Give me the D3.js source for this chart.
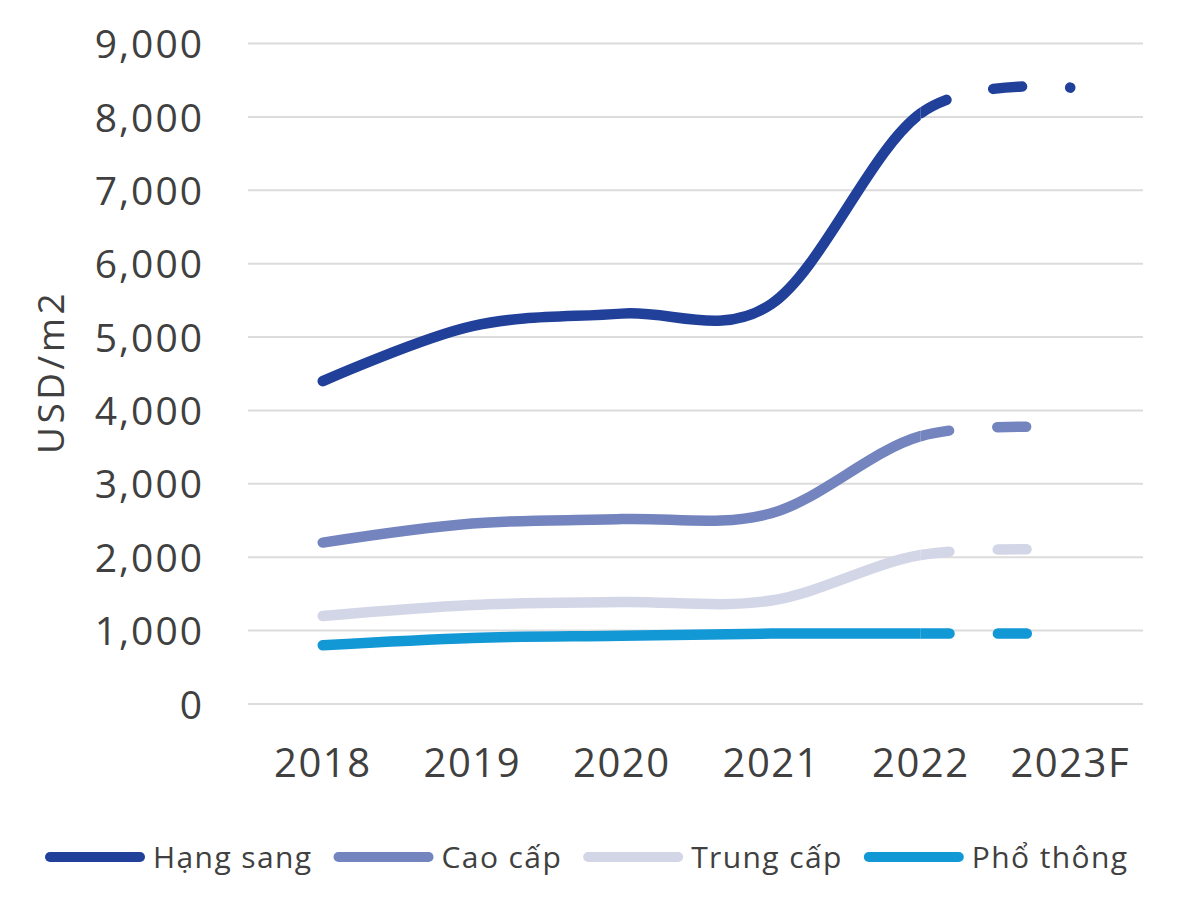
<!DOCTYPE html>
<html>
<head>
<meta charset="utf-8">
<script src="https://cdn.jsdelivr.net/npm/d3@7"></script>
<style>
  html, body { margin: 0; padding: 0; background: #ffffff; }
  svg text { font-family: "Open Sans", "Noto Sans", sans-serif; fill: #404040; }
</style>
</head>
<body>
<svg id="chart" width="1200" height="898"></svg>
<script>
// ---- data ----
const categories = ["2018", "2019", "2020", "2021", "2022", "2023F"];
const seriesNames = ["Hạng sang", "Cao cấp", "Trung cấp", "Phổ thông"];
const hangSang = [4400, 5150, 5320, 5450, 8050, 8400];
const caoCap   = [2200, 2460, 2520, 2600, 3650, 3760];
const trungCap = [1200, 1350, 1390, 1410, 2030, 2100];
const phoThong = [800, 900, 930, 960, 960, 960];
const yTicks = [0, 1000, 2000, 3000, 4000, 5000, 6000, 7000, 8000, 9000];
const yTitle = "USD/m2";
const forecastFrom = "2022";

const seriesValues = [hangSang, caoCap, trungCap, phoThong];
const colors = ["#21409a", "#7384bf", "#d3d6e6", "#1398d6"];

// ---- layout ----
const svg = d3.select("#chart");
const plotLeft = 248, plotRight = 1145, plotTop = 43.6, plotBottom = 704;

const x = d3.scaleBand().domain(categories).range([plotLeft, plotRight]);
const xc = d => x(d) + x.bandwidth() / 2;
const y = d3.scaleLinear().domain([0, 9000]).range([plotBottom, plotTop]);

// gridlines
svg.append("g").selectAll("line").data(yTicks).join("line")
  .attr("x1", plotLeft).attr("x2", plotRight - 2)
  .attr("y1", d => y(d)).attr("y2", d => y(d))
  .attr("stroke", "#dcdcdc").attr("stroke-width", 2);

// y axis labels
const yAxis = d3.axisLeft(y).tickValues(yTicks).tickFormat(d3.format(",")).tickSize(0).tickPadding(0);
const gy = svg.append("g").attr("transform", `translate(204,0)`).call(yAxis);
gy.select(".domain").remove();
gy.selectAll("text")
  .style("font-family", '"Open Sans", sans-serif')
  .attr("font-size", 39).attr("fill", "#404040")
  .attr("letter-spacing", 2).attr("dy", "0.36em");

// x axis labels
const xAxis = d3.axisBottom(x).tickSize(0).tickPadding(0);
const gx = svg.append("g").attr("transform", `translate(0,749)`).call(xAxis);
gx.select(".domain").remove();
gx.selectAll("text")
  .style("font-family", '"Open Sans", sans-serif')
  .attr("font-size", 40).attr("fill", "#404040")
  .attr("letter-spacing", 1.5).attr("dy", "0.71em");

// y title
svg.append("text")
  .attr("transform", "translate(64,372) rotate(-90)")
  .attr("text-anchor", "middle")
  .attr("font-size", 37).attr("letter-spacing", 3.5)
  .text(yTitle);

// clip paths
const splitX = xc(forecastFrom);
const defs = svg.append("defs");
defs.append("clipPath").attr("id", "clipSolid")
  .append("rect").attr("x", 0).attr("y", 0).attr("width", splitX).attr("height", 898);
defs.append("clipPath").attr("id", "clipDash")
  .append("rect").attr("x", splitX).attr("y", 0).attr("width", 1200 - splitX).attr("height", 898);

const line = d3.line()
  .x((d, i) => xc(categories[i]))
  .y(d => y(d))
  .curve(d3.curveCardinal.tension(0));

const dashLen = 29, gapLen = 48;

// draw series, back to front so darker lines sit above
const order = [3, 2, 1, 0];
order.forEach(si => {
  const vals = seriesValues[si];
  const dStr = line(vals);
  svg.append("path")
    .attr("d", dStr).attr("fill", "none")
    .attr("stroke", colors[si]).attr("stroke-width", 10.5)
    .attr("stroke-linecap", "round").attr("stroke-linejoin", "round")
    .attr("clip-path", "url(#clipSolid)");
  const dashed = svg.append("path")
    .attr("d", dStr).attr("fill", "none")
    .attr("stroke", colors[si]).attr("stroke-width", 10.5)
    .attr("stroke-linecap", "round")
    .attr("clip-path", "url(#clipDash)");
  // find arc length where the path reaches the split x
  const node = dashed.node();
  const total = node.getTotalLength();
  let lo = 0, hi = total;
  for (let k = 0; k < 40; k++) {
    const mid = (lo + hi) / 2;
    if (node.getPointAtLength(mid).x < splitX) lo = mid; else hi = mid;
  }
  dashed.attr("stroke-dasharray", `${dashLen} ${gapLen}`)
        .attr("stroke-dashoffset", -lo);
});

// legend
const legend = svg.append("g");
let lx = 45;
const ly = 857;
seriesNames.forEach((name, i) => {
  legend.append("line")
    .attr("x1", lx + 5).attr("x2", lx + 95)
    .attr("y1", ly).attr("y2", ly)
    .attr("stroke", colors[i]).attr("stroke-width", 10)
    .attr("stroke-linecap", "round");
  const t = legend.append("text")
    .attr("x", lx + 108).attr("y", ly)
    .attr("dy", "0.36em")
    .attr("font-size", 30).attr("letter-spacing", 1.4)
    .text(name);
  const w = t.node().getComputedTextLength();
  lx = lx + 108 + w + 21;
});
</script>
</body>
</html>
